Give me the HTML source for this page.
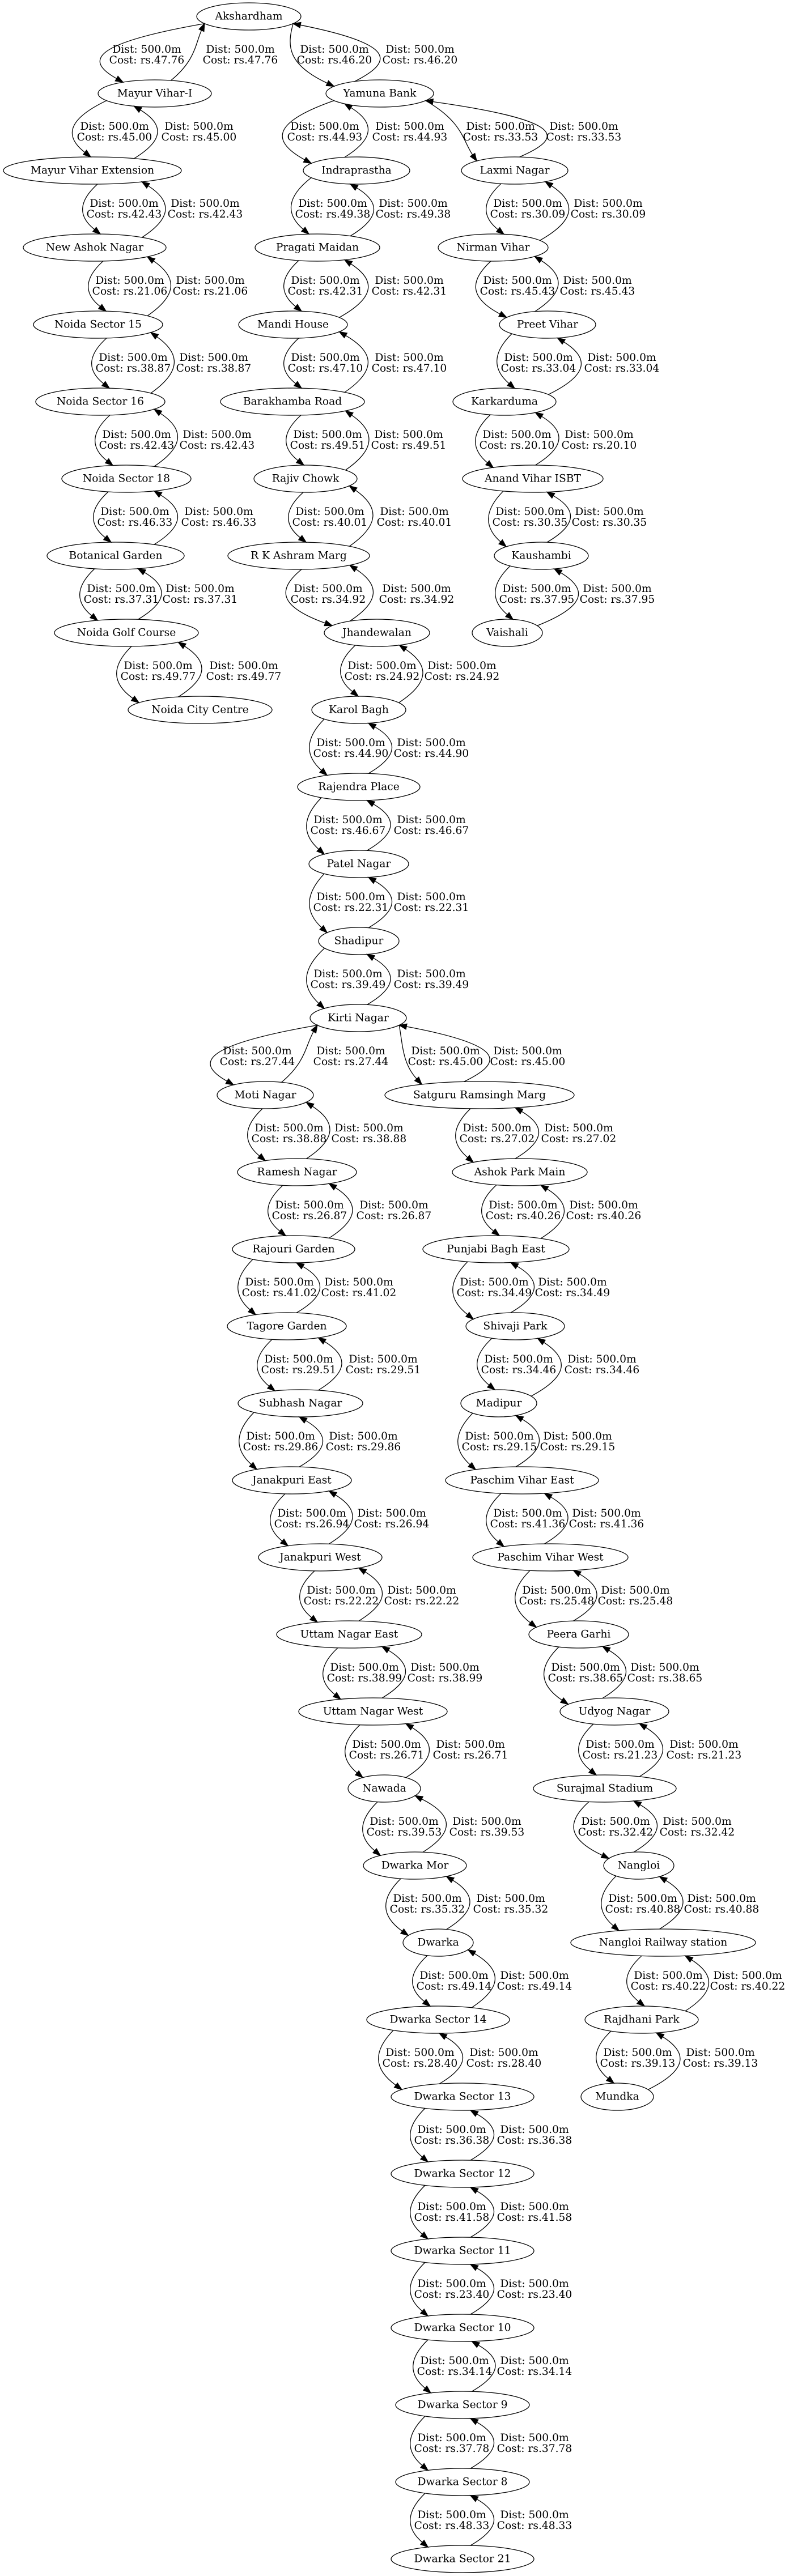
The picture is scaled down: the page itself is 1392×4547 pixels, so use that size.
<!DOCTYPE html>
<html><head><meta charset="utf-8">
<style>
html,body{margin:0;padding:0;background:#fff;}
svg{display:block;}
text{font-family:"DejaVu Serif","Liberation Serif",serif;font-size:18.67px;fill:#000;}
</style></head>
<body>
<svg id="g" xmlns="http://www.w3.org/2000/svg" width="1392" height="4547" viewBox="0 0 1392 4547">
<rect width="1392" height="4547" fill="#fff"/>
</svg>
<script>
var N={
Ak:["Akshardham",439,0,92],
MV1:["Mayur Vihar-I",273,1,100],
YB:["Yamuna Bank",670,1,95],
MVE:["Mayur Vihar Extension",163,2,157],
Ind:["Indraprastha",629,2,94],
Lax:["Laxmi Nagar",908,2,94],
NAN:["New Ashok Nagar",167,3,126],
PM:["Pragati Maidan",560,3,110],
NV:["Nirman Vihar",870,3,97],
NS15:["Noida Sector 15",173,4,114],
MH:["Mandi House",517,4,96],
PV:["Preet Vihar",966,4,85],
NS16:["Noida Sector 16",177,5,114],
BR:["Barakhamba Road",516,5,127],
Kark:["Karkarduma",890,5,91],
NS18:["Noida Sector 18",223,6,114],
RC:["Rajiv Chowk",539,6,91],
AV:["Anand Vihar ISBT",940,6,124],
BG:["Botanical Garden",204,7,121],
RK:["R K Ashram Marg",527,7,125],
Kaus:["Kaushambi",955,7,83],
NGC:["Noida Golf Course",223,8,127],
Jh:["Jhandewalan",665,8,93],
Vai:["Vaishali",895,8,62],
NCC:["Noida City Centre",353,9,127],
KB:["Karol Bagh",633,9,83],
RP:["Rajendra Place",633,10,108],
PN:["Patel Nagar",633,11,88],
Sh:["Shadipur",633,12,71],
KN:["Kirti Nagar",632,13,85],
MN:["Moti Nagar",468,14,85],
SRM:["Satguru Ramsingh Marg",846,14,167],
RN:["Ramesh Nagar",524,15,105],
APM:["Ashok Park Main",917,15,119],
RG:["Rajouri Garden",518,16,108],
PBE:["Punjabi Bagh East",875,16,129],
TG:["Tagore Garden",506,17,105],
SP:["Shivaji Park",909,17,87],
SN:["Subhash Nagar",530,18,110],
Mad:["Madipur",880,18,67],
JE:["Janakpuri East",515,19,105],
PVE:["Paschim Vihar East",921,19,135],
JW:["Janakpuri West",565,20,109],
PVW:["Paschim Vihar West",971,20,137],
UNE:["Uttam Nagar East",616,21,128],
PG:["Peera Garhi",1021,21,88],
UNW:["Uttam Nagar West",658,22,131],
UdN:["Udyog Nagar",1084,22,96],
Naw:["Nawada",678,23,64],
SS:["Surajmal Stadium",1067,23,126],
DM:["Dwarka Mor",732,24,91],
Nang:["Nangloi",1127,24,62],
Dw:["Dwarka",773,25,62],
NRS:["Nangloi Railway station",1170,25,163],
DS14:["Dwarka Sector 14",773,26,126],
RajP:["Rajdhani Park",1132,26,100],
DS13:["Dwarka Sector 13",816,27,126],
Mun:["Mundka",1089,27,64],
DS12:["Dwarka Sector 12",816,28,126],
DS11:["Dwarka Sector 11",816,29,126],
DS10:["Dwarka Sector 10",816,30,126],
DS9:["Dwarka Sector 9",816,31,118],
DS8:["Dwarka Sector 8",816,32,118],
DS21:["Dwarka Sector 21",816,33,126]
};
var E=[
["Ak","MV1",259,424,"Cost: rs.47.76"],
["Ak","YB",590,741,"Cost: rs.46.20"],
["MV1","MVE",202,351,"Cost: rs.45.00"],
["YB","Ind",573,723,"Cost: rs.44.93"],
["YB","Lax",883,1030,"Cost: rs.33.53"],
["MVE","NAN",219,362,"Cost: rs.42.43"],
["Ind","PM",587,729,"Cost: rs.49.38"],
["Lax","NV",931,1073,"Cost: rs.30.09"],
["NAN","NS15",229,371,"Cost: rs.21.06"],
["PM","MH",574,722,"Cost: rs.42.31"],
["NV","PV",913,1054,"Cost: rs.45.43"],
["NS15","NS16",235,377,"Cost: rs.38.87"],
["MH","BR",574,722,"Cost: rs.47.10"],
["PV","Kark",950,1097,"Cost: rs.33.04"],
["NS16","NS18",241,383,"Cost: rs.42.43"],
["BR","RC",578,721,"Cost: rs.49.51"],
["Kark","AV",912,1057,"Cost: rs.20.10"],
["NS18","BG",238,386,"Cost: rs.46.33"],
["RC","RK",582,731,"Cost: rs.40.01"],
["AV","Kaus",935,1075,"Cost: rs.30.35"],
["BG","NGC",214,353,"Cost: rs.37.31"],
["RK","Jh",579,735,"Cost: rs.34.92"],
["Kaus","Vai",947,1089,"Cost: rs.37.95"],
["NGC","NCC",279,430,"Cost: rs.49.77"],
["Jh","KB",674,815,"Cost: rs.24.92"],
["KB","RP",619,761,"Cost: rs.44.90"],
["RP","PN",614,761,"Cost: rs.46.67"],
["PN","Sh",619,761,"Cost: rs.22.31"],
["Sh","KN",614,761,"Cost: rs.39.49"],
["KN","MN",454,619,"Cost: rs.27.44"],
["KN","SRM",786,931,"Cost: rs.45.00"],
["MN","RN",510,651,"Cost: rs.38.88"],
["SRM","APM",877,1021,"Cost: rs.27.02"],
["RN","RG",546,695,"Cost: rs.26.87"],
["APM","PBE",923,1065,"Cost: rs.40.26"],
["RG","TG",493,633,"Cost: rs.41.02"],
["PBE","SP",872,1010,"Cost: rs.34.49"],
["TG","SN",527,676,"Cost: rs.29.51"],
["SP","Mad",915,1062,"Cost: rs.34.46"],
["SN","JE",495,641,"Cost: rs.29.86"],
["Mad","PVE",881,1019,"Cost: rs.29.15"],
["JE","JW",550,691,"Cost: rs.26.94"],
["PVE","PVW",931,1070,"Cost: rs.41.36"],
["JW","UNE",602,744,"Cost: rs.22.22"],
["PVW","PG",982,1121,"Cost: rs.25.48"],
["UNE","UNW",643,785,"Cost: rs.38.99"],
["PG","UdN",1033,1173,"Cost: rs.38.65"],
["UNW","Naw",682,830,"Cost: rs.26.71"],
["UdN","SS",1094,1242,"Cost: rs.21.23"],
["Naw","DM",713,859,"Cost: rs.39.53"],
["SS","Nang",1086,1230,"Cost: rs.32.42"],
["DM","Dw",754,901,"Cost: rs.35.32"],
["Nang","NRS",1134,1273,"Cost: rs.40.88"],
["Dw","DS14",801,943,"Cost: rs.49.14"],
["NRS","RajP",1179,1319,"Cost: rs.40.22"],
["DS14","DS13",741,889,"Cost: rs.28.40"],
["RajP","Mun",1125,1271,"Cost: rs.39.13"],
["DS13","DS12",797,943,"Cost: rs.36.38"],
["DS12","DS11",797,943,"Cost: rs.41.58"],
["DS11","DS10",797,943,"Cost: rs.23.40"],
["DS10","DS9",802,943,"Cost: rs.34.14"],
["DS9","DS8",797,943,"Cost: rs.37.78"],
["DS8","DS21",797,943,"Cost: rs.48.33"]
];
var DIST="Dist: 500.0m";
var svg=document.getElementById("g");
var NS="http://www.w3.org/2000/svg";
function el(t,a,txt){var e=document.createElementNS(NS,t);for(var k in a)e.setAttribute(k,a[k]);if(txt!=null)e.textContent=txt;svg.appendChild(e);return e;}
var RY=24;
function Y(n){return 29+136*n[2];}
function pt(n,x,lower){var cx=n[1],rx=n[3];var lo=cx-0.85*rx,hi=cx+0.85*rx;x=Math.max(lo,Math.min(hi,x));var r=(x-cx)/rx;var dy=RY*Math.sqrt(Math.max(0,1-r*r));return [x,Y(n)+(lower?dy:-dy)];}
function edge(s,e,apex){
  var cx=(apex-0.125*(s[0]+e[0]))/0.75;
  var dy=e[1]-s[1];
  var c1=[cx,s[1]+dy*0.35],c2=[cx,e[1]-dy*0.35];
  var vx=e[0]-c2[0],vy=e[1]-c2[1];var L=Math.sqrt(vx*vx+vy*vy);vx/=L;vy/=L;
  var AL=13,AW=4.8;
  var b=[e[0]-vx*AL,e[1]-vy*AL];
  el("path",{d:"M"+s[0].toFixed(1)+","+s[1].toFixed(1)+" C"+c1[0].toFixed(1)+","+c1[1].toFixed(1)+" "+c2[0].toFixed(1)+","+c2[1].toFixed(1)+" "+b[0].toFixed(1)+","+b[1].toFixed(1),fill:"none",stroke:"#000","stroke-width":"1.3"});
  var px=-vy,py=vx;
  el("polygon",{points:e[0].toFixed(1)+","+e[1].toFixed(1)+" "+(b[0]+px*AW).toFixed(1)+","+(b[1]+py*AW).toFixed(1)+" "+(b[0]-px*AW).toFixed(1)+","+(b[1]-py*AW).toFixed(1),fill:"#000",stroke:"#000","stroke-width":"1.3"});
}
E.forEach(function(ed){
  var A=N[ed[0]],B=N[ed[1]],Lx=ed[2],Rx=ed[3];
  var leftX=Lx-72;
  var s=pt(A,leftX+25,true),e=pt(B,leftX+30,false);
  edge(s,e,leftX);
  var mid=(Lx+Rx)/2;
  var s2=pt(B,mid-40,false),e2=pt(A,mid-40,true);
  edge(s2,e2,mid);
  var ym=(Y(A)+Y(B))/2;
  [Lx,Rx].forEach(function(px){
    el("text",{x:px,y:ym-9.7,"text-anchor":"middle","dominant-baseline":"central"},DIST);
    el("text",{x:px,y:ym+9.7,"text-anchor":"middle","dominant-baseline":"central"},ed[4]);
  });
});
for(var k in N){var n=N[k];
  el("ellipse",{cx:n[1],cy:Y(n),rx:n[3],ry:RY,fill:"none",stroke:"#000","stroke-width":"1.3"});
  el("text",{x:n[1],y:Y(n),"text-anchor":"middle","dominant-baseline":"central"},n[0]);
}
</script>
</body></html>
